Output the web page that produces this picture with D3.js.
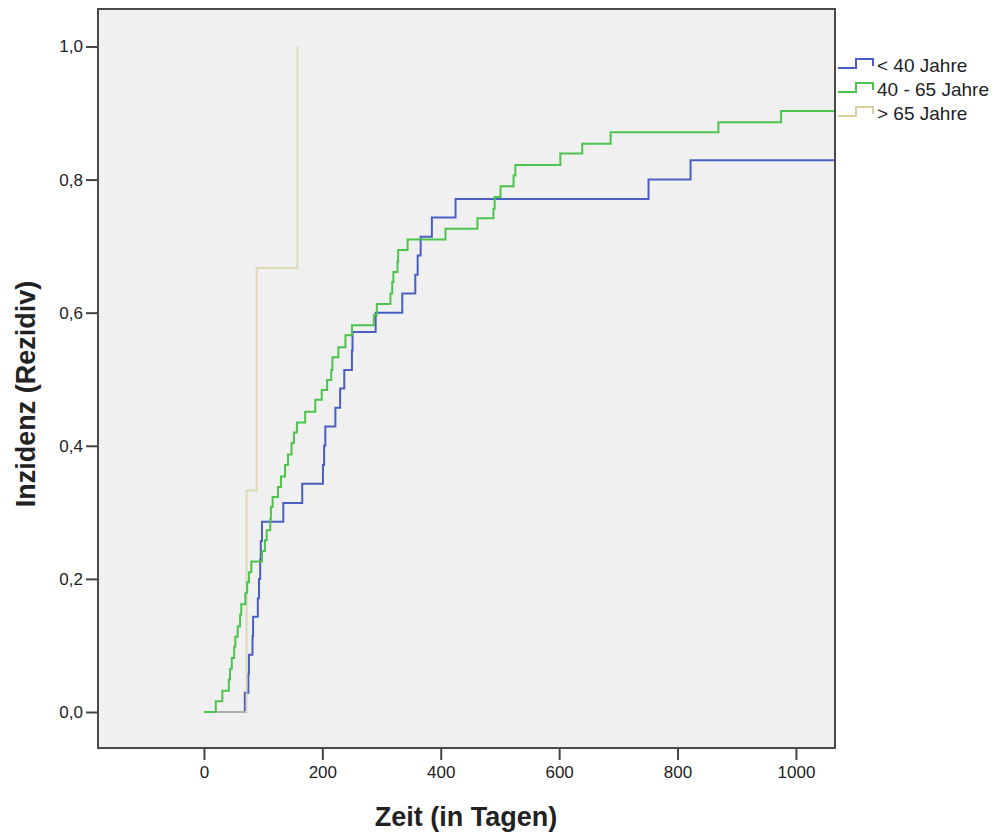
<!DOCTYPE html>
<html lang="de">
	<head>
		<meta charset="utf-8">
		<title>Inzidenz Rezidiv</title>
		<script src="https://cdnjs.cloudflare.com/ajax/libs/d3/7.8.5/d3.min.js"></script>
		<style type="text/css">
            body {
                margin: 0;
                background: white;
            }
            text {
                font-family: "Liberation Sans", Arial, sans-serif;
                fill: #222;
            }
            .axis path {
                display: none;
            }
            .axis line {
                stroke: #444;
                stroke-width: 2;
            }
            .axis text {
                font-size: 17px;
            }
		</style>
	</head>
	<body>
		<div id="chart"></div>

		<script type="text/javascript">

            // ticks
            const xTicks = [0, 200, 400, 600, 800, 1000];
            const yTicks = [0, 0.2, 0.4, 0.6, 0.8, 1.0];

            // groups
            const groups = ["< 40 Jahre", "40 - 65 Jahre", "> 65 Jahre"];
            const colors = ["#4a5fc1", "#4cc34c", "#d6d09c"];

            // < 40 Jahre: days of events and cumulative incidence after each event
            const youngDays = [69, 75, 76, 82, 83, 91, 93, 95, 96, 98, 134, 166, 201, 203, 205, 222, 230, 237,
                250, 251, 290, 335, 357, 361, 366, 385, 425, 751, 822];
            const youngValues = [0.029, 0.057, 0.086, 0.114, 0.143, 0.171, 0.2, 0.229, 0.257, 0.286, 0.314,
                0.343, 0.371, 0.4, 0.429, 0.457, 0.486, 0.514, 0.543, 0.571, 0.6, 0.629, 0.657, 0.686, 0.714,
                0.743, 0.771, 0.8, 0.829];

            // 40 - 65 Jahre
            const middleDays = [20, 31, 42, 44, 47, 51, 53, 57, 61, 63, 70, 73, 76, 80, 98, 103, 106, 112,
                113, 116, 125, 130, 137, 142, 148, 152, 157, 171, 188, 199, 208, 215, 217, 227, 239, 250,
                287, 292, 315, 318, 320, 327, 328, 344, 408, 462, 489, 491, 501, 523, 526, 602, 639, 687,
                869, 975];
            const middleValues = [0.016, 0.032, 0.049, 0.065, 0.081, 0.098, 0.113, 0.129, 0.146, 0.162,
                0.179, 0.195, 0.21, 0.226, 0.242, 0.258, 0.273, 0.29, 0.308, 0.323, 0.338, 0.354, 0.371,
                0.387, 0.404, 0.42, 0.435, 0.451, 0.469, 0.484, 0.499, 0.514, 0.533, 0.548, 0.566, 0.581,
                0.596, 0.613, 0.629, 0.646, 0.661, 0.677, 0.694, 0.71, 0.726, 0.742, 0.756, 0.774, 0.79,
                0.806, 0.822, 0.839, 0.854, 0.871, 0.886, 0.903];

            // > 65 Jahre
            const oldDays = [72, 89, 158];
            const oldValues = [0.333, 0.667, 1.0];

            const xEnd = 1066;

            const width = 998;
            const height = 834;
            const plot = {left: 98, top: 9, right: 835, bottom: 748};

            const svg = d3.select("#chart")
                .append("svg")
                .attr("width", width)
                .attr("height", height);

            const xScale = d3.scaleLinear()
                .domain([-179, 1066])
                .range([plot.left, plot.right]);

            const yScale = d3.scaleLinear()
                .domain([-0.0541, 1.0563])
                .range([plot.bottom, plot.top]);

            // plot background
            svg.append("rect")
                .attr("x", plot.left)
                .attr("y", plot.top)
                .attr("width", plot.right - plot.left)
                .attr("height", plot.bottom - plot.top)
                .attr("fill", "#f0f0f0");

            // build step series
            function toSeries(days, values, extend) {
                const pts = [[0, 0]];
                days.forEach((d, i) => pts.push([d, values[i]]));
                if (extend) pts.push([xEnd, values[values.length - 1]]);
                return pts;
            }

            const series = [
                toSeries(youngDays, youngValues, true),
                toSeries(middleDays, middleValues, true),
                toSeries(oldDays, oldValues, false)
            ];

            const line = d3.line()
                .x(d => xScale(d[0]))
                .y(d => yScale(d[1]))
                .curve(d3.curveStepAfter);

            // draw order: blue, beige, green
            [0, 2, 1].forEach(i => {
                svg.append("path")
                    .attr("d", line(series[i]))
                    .attr("fill", "none")
                    .attr("stroke", colors[i])
                    .attr("stroke-width", 2)
                    .attr("opacity", i == 2 ? 0.7 : 1);
            });

            // axes
            const xAxis = d3.axisBottom(xScale)
                .tickValues(xTicks)
                .tickSize(12)
                .tickPadding(6)
                .tickFormat(d3.format("d"));

            svg.append("g")
                .attr("class", "axis x")
                .attr("transform", `translate(0,${plot.bottom})`)
                .call(xAxis);

            const yAxis = d3.axisLeft(yScale)
                .tickValues(yTicks)
                .tickSize(12)
                .tickPadding(3)
                .tickFormat(d => d3.format(".1f")(d).replace(".", ","));

            svg.append("g")
                .attr("class", "axis y")
                .attr("transform", `translate(${plot.left},0)`)
                .call(yAxis);

            // frame
            svg.append("rect")
                .attr("x", plot.left)
                .attr("y", plot.top)
                .attr("width", plot.right - plot.left)
                .attr("height", plot.bottom - plot.top)
                .attr("fill", "none")
                .attr("stroke", "#4a4a4a")
                .attr("stroke-width", 2);

            // axis titles
            svg.append("text")
                .attr("x", 466)
                .attr("y", 826)
                .attr("text-anchor", "middle")
                .style("font-size", "27px")
                .style("font-weight", "bold")
                .text("Zeit (in Tagen)");

            svg.append("text")
                .attr("transform", "translate(35,394) rotate(-90)")
                .attr("text-anchor", "middle")
                .style("font-size", "27px")
                .style("font-weight", "bold")
                .text("Inzidenz (Rezidiv)");

            // legend
            const legend = svg.append("g")
                .attr("class", "legend");

            groups.forEach((g, i) => {
                const ly = 68 + i * 24;
                legend.append("path")
                    .attr("d", `M838,${ly}H856V${ly - 9}H873V${ly - 2}`)
                    .attr("fill", "none")
                    .attr("stroke", colors[i])
                    .attr("stroke-width", 2);
                legend.append("text")
                    .attr("x", 877)
                    .attr("y", ly + 4)
                    .style("font-size", "19px")
                    .text(g);
            });

		</script>
	</body>
</html>
